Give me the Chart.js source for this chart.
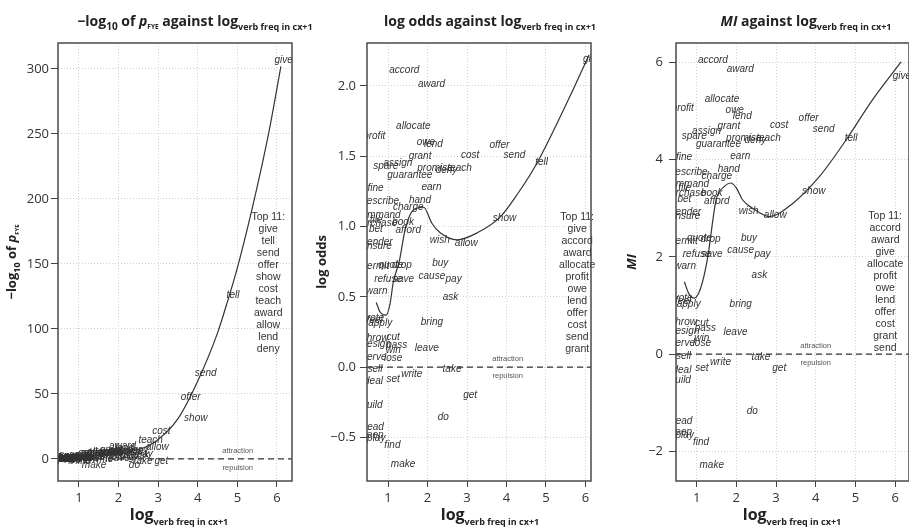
<!DOCTYPE html>
<html>
<head>
<meta charset="utf-8">
<script src="https://cdn.jsdelivr.net/npm/chart.js@4.4.0/dist/chart.umd.min.js"></script>
<style>
  body { margin: 0; background: #fff; }
  #wrap { position: relative; width: 909px; height: 530px; overflow: hidden; }
  .panel { position: absolute; top: 0; height: 530px; }
</style>
</head>
<body>
<div id="wrap">
  <canvas class="panel" id="fye" width="345" height="530" style="left:0"></canvas>
  <canvas class="panel" id="odds" width="345" height="530" style="left:303px"></canvas>
  <canvas class="panel" id="mi" width="303" height="530" style="left:606px"></canvas>
</div>
<script>
'use strict';

// tick labels
const xTicks = [1, 2, 3, 4, 5, 6];
const fyeTicks = [0, 50, 100, 150, 200, 250, 300];
const oddsTicks = [-0.5, 0, 0.5, 1, 1.5, 2];
const miTicks = [-2, 0, 2, 4, 6];

// verbs and their values
const verbs = ['give', 'tell', 'send', 'offer', 'show', 'cost', 'teach', 'award', 'allow', 'lend', 'deny',
  'accord', 'allocate', 'profit', 'owe', 'grant', 'assign', 'spare', 'promise', 'guarantee', 'fine', 'earn',
  'describe', 'hand', 'charge', 'command', 'file', 'purchase', 'book', 'bet', 'afford', 'wish', 'render',
  'ensure', 'permit', 'quote', 'drop', 'buy', 'cause', 'pay', 'refuse', 'save', 'warn', 'ask', 'vote', 'feel',
  'apply', 'bring', 'throw', 'cut', 'design', 'pass', 'win', 'serve', 'lose', 'leave', 'sell', 'take', 'write',
  'deal', 'set', 'get', 'build', 'do', 'read', 'keep', 'play', 'find', 'make'];

const logFreq = [6.17, 4.89, 4.2, 3.82, 3.95, 3.08, 2.81, 2.1, 2.98, 2.15, 2.48,
  1.41, 1.64, 0.65, 1.96, 1.81, 1.25, 0.94, 2.19, 1.55, 0.68, 2.1,
  0.8, 1.81, 1.51, 0.76, 0.7, 0.71, 1.38, 0.69, 1.51, 2.31, 0.75,
  0.71, 0.68, 1.07, 1.35, 2.32, 2.11, 2.66, 1.0, 1.39, 0.71, 2.58, 0.66, 0.66,
  0.8, 2.11, 0.7, 1.13, 0.7, 1.22, 1.13, 0.65, 1.13, 1.98, 0.67, 2.62, 1.6,
  0.63, 1.13, 3.08, 0.59, 2.4, 0.64, 0.61, 0.7, 1.11, 1.38];

const minusLogP = [307, 125.6, 66, 47.2, 31.3, 21, 14.6, 9.5, 9, 8, 7,
  4, 5, 1.5, 6, 6.5, 3, 2, 6, 4, 1, 5.5,
  1, 5, 4, 0.8, 0.8, 0.8, 3, 0.7, 4, 5, 0.6,
  0.5, 0.5, 1.5, 2, 3, 3, 3.5, 1.5, 1.5, 0.4, 2.5, 0.3, 0.3,
  0.3, 1, 0.2, 0.3, 0.2, 0.3, 0.2, 0.1, 0.2, 0.8, 0, -1.5, -0.3,
  -0.2, -0.5, -1.5, -0.3, -4.6, -0.5, -0.6, -0.6, -1.8, -5];

const logOdds = [2.19, 1.457, 1.505, 1.575, 1.06, 1.51, 1.414, 2.01, 0.88, 1.587, 1.397,
  2.11, 1.715, 1.64, 1.6, 1.5, 1.45, 1.43, 1.414, 1.367, 1.27, 1.28,
  1.177, 1.184, 1.137, 1.08, 1.047, 1.02, 1.03, 0.98, 0.976, 0.905, 0.89,
  0.857, 0.72, 0.727, 0.727, 0.74, 0.649, 0.625, 0.625, 0.625, 0.537, 0.497, 0.348, 0.33,
  0.313, 0.317, 0.206, 0.213, 0.163, 0.158, 0.123, 0.071, 0.064, 0.135, -0.014, -0.014, -0.048,
  -0.097, -0.085, -0.197, -0.268, -0.358, -0.43, -0.486, -0.505, -0.557, -0.694];

const miScore = [5.72, 4.44, 4.62, 4.85, 3.35, 4.71, 4.45, 5.86, 2.85, 4.9, 4.4,
  6.05, 5.25, 5.06, 5.02, 4.69, 4.59, 4.49, 4.45, 4.32, 4.06, 4.07,
  3.75, 3.8, 3.65, 3.49, 3.41, 3.32, 3.32, 3.18, 3.15, 2.94, 2.92,
  2.83, 2.33, 2.38, 2.36, 2.39, 2.14, 2.06, 2.06, 2.06, 1.8, 1.63, 1.16, 1.09,
  1.02, 1.02, 0.66, 0.63, 0.48, 0.53, 0.32, 0.22, 0.22, 0.46, -0.04, -0.06, -0.16,
  -0.33, -0.28, -0.29, -0.53, -1.17, -1.39, -1.6, -1.67, -1.82, -2.28];

// smoothers
const fyeCurveX = [0.6, 1, 1.5, 2, 2.5, 3, 3.5, 4, 4.5, 4.75, 5, 5.4, 5.8, 6.1];
const fyeCurveY = [1, 2, 3, 4.5, 7, 15, 31, 60, 97, 121, 147, 196, 252, 302];
const oddsCurveX = [0.7, 0.8, 0.95, 1.05, 1.13, 1.29, 1.43, 1.64, 1.9, 2.11, 2.32, 2.75, 3.26, 3.85, 4.3, 4.77, 5.53, 6.09];
const oddsCurveY = [0.46, 0.39, 0.37, 0.45, 0.6, 0.76, 0.976, 1.118, 1.137, 1.023, 0.955, 0.905, 0.955, 1.07, 1.24, 1.45, 1.88, 2.22];
const miCurveX = [0.69, 0.8, 0.94, 1.05, 1.15, 1.28, 1.49, 1.7, 1.86, 2.0, 2.16, 2.41, 2.83, 3.42, 4.09, 4.76, 5.43, 6.15];
const miCurveY = [1.49, 1.25, 1.15, 1.25, 1.49, 2.0, 3.17, 3.45, 3.52, 3.42, 3.17, 3.0, 2.83, 3.1, 3.65, 4.4, 5.23, 6.01];

// top 11 lists
const fyeTop = ['give', 'tell', 'send', 'offer', 'show', 'cost', 'teach', 'award', 'allow', 'lend', 'deny'];
const oddsTop = ['give', 'accord', 'award', 'allocate', 'profit', 'owe', 'lend', 'offer', 'cost', 'send', 'grant'];
const miTop = ['accord', 'award', 'give', 'allocate', 'profit', 'owe', 'lend', 'offer', 'cost', 'grant', 'send'];

const SUB = 'verb freq in cx+1';

function richFont(p) {
  return (p.i ? 'italic ' : '') + 'bold ' + p.s + 'px "Open Sans"';
}

function drawRich(ctx, parts, x, y) {
  let w = 0;
  parts.forEach(p => { ctx.font = richFont(p); p.w = ctx.measureText(p.t).width; w += p.w; });
  let cx = x - w / 2;
  ctx.textAlign = 'left';
  ctx.textBaseline = 'alphabetic';
  parts.forEach(p => {
    ctx.font = richFont(p);
    ctx.fillText(p.t, cx, y + (p.dy || 0));
    cx += p.w;
  });
}

function minus(v) {
  return String(v).replace('-', '\u2212');
}

function makePanel(id, cfg) {
  const decor = {
    id: 'decor' + id,
    afterDatasetsDraw(chart) {
      const ctx = chart.ctx;
      const a = chart.chartArea;
      const xs = chart.scales.x;
      const ys = chart.scales.y;
      ctx.save();
      ctx.beginPath();
      ctx.rect(a.left, a.top, a.right - a.left, a.bottom - a.top);
      ctx.clip();
      // verb labels
      ctx.fillStyle = '#333';
      ctx.font = 'italic 10px "Liberation Sans"';
      ctx.textAlign = 'center';
      ctx.textBaseline = 'middle';
      chart.getDatasetMeta(2).data.forEach((el, i) => {
        ctx.fillText(verbs[i], el.x, el.y);
      });
      // attraction / repulsion
      ctx.fillStyle = '#555';
      ctx.font = '7.5px "Liberation Sans"';
      const ax = xs.getPixelForValue(cfg.attX);
      const zy = ys.getPixelForValue(0);
      ctx.fillText('attraction', ax, zy - 8);
      ctx.fillText('repulsion', ax, zy + 9);
      ctx.restore();
      // top 11 list
      ctx.save();
      ctx.fillStyle = '#333';
      ctx.font = '10.5px "Liberation Sans"';
      ctx.textAlign = 'center';
      ctx.textBaseline = 'middle';
      const lx = xs.getPixelForValue(cfg.listX);
      const ly = ys.getPixelForValue(cfg.listY);
      ['Top 11:'].concat(cfg.top).forEach((t, i) => ctx.fillText(t, lx, ly + i * 12));
      ctx.restore();
      // frame
      ctx.save();
      ctx.strokeStyle = '#4a4a4a';
      ctx.lineWidth = 1.5;
      ctx.strokeRect(a.left, a.top, a.right - a.left, a.bottom - a.top);
      ctx.restore();
    },
    afterDraw(chart) {
      const ctx = chart.ctx;
      const a = chart.chartArea;
      ctx.save();
      ctx.fillStyle = '#222';
      drawRich(ctx, cfg.title, cfg.titleX, 26);
      drawRich(ctx, [{ t: 'log', s: 16 }, { t: SUB, s: 9, dy: 5 }], cfg.xTitleX, 520);
      ctx.translate(cfg.yTitleX, (a.top + a.bottom) / 2);
      ctx.rotate(-Math.PI / 2);
      drawRich(ctx, cfg.yTitle, 0, 0);
      ctx.restore();
    }
  };

  const tickFont = { family: '"Open Sans"', size: 13 };

  return new Chart(document.getElementById(id), {
    type: 'scatter',
    data: {
      datasets: [
        {
          data: [{ x: cfg.xMin, y: 0 }, { x: cfg.xMax, y: 0 }],
          showLine: true, borderColor: '#333', borderWidth: 1.3, borderDash: [6, 4], pointRadius: 0
        },
        {
          data: cfg.curveX.map((x, i) => ({ x: x, y: cfg.curveY[i] })),
          showLine: true, borderColor: '#333', borderWidth: 1.2, pointRadius: 0,
          cubicInterpolationMode: 'monotone'
        },
        {
          data: logFreq.map((x, i) => ({ x: x, y: cfg.yVals[i] })),
          pointRadius: 0, showLine: false
        }
      ]
    },
    options: {
      responsive: false,
      animation: false,
      events: [],
      layout: { padding: { top: 43, right: cfg.rightPad, bottom: 0, left: 0 } },
      plugins: { legend: { display: false }, tooltip: { enabled: false }, title: { display: false } },
      scales: {
        x: {
          type: 'linear', min: cfg.xMin, max: cfg.xMax,
          afterBuildTicks: s => { s.ticks = xTicks.map(v => ({ value: v })); },
          afterFit: s => { s.height = 49; },
          ticks: { font: tickFont, color: '#333', padding: 3, maxRotation: 0 },
          grid: { color: '#d2d2d2', tickLength: 6, tickColor: '#444', tickWidth: 1 },
          border: { display: false, dash: [1, 2] }
        },
        y: {
          type: 'linear', min: cfg.yMin, max: cfg.yMax,
          afterBuildTicks: s => { s.ticks = cfg.yTicks.map(v => ({ value: v })); },
          afterFit: s => { s.width = cfg.leftW; },
          ticks: { font: tickFont, color: '#333', padding: cfg.tickPad, callback: cfg.fmt },
          grid: { color: '#d2d2d2', tickLength: 7, tickColor: '#444', tickWidth: 1 },
          border: { display: false, dash: [1, 2] }
        }
      }
    },
    plugins: [decor]
  });
}

makePanel('fye', {
  yVals: minusLogP, curveX: fyeCurveX, curveY: fyeCurveY, yTicks: fyeTicks,
  xMin: 0.47, xMax: 6.38, yMin: -17, yMax: 320, leftW: 58, rightPad: 53, tickPad: 2,
  fmt: v => minus(v),
  top: fyeTop, listX: 5.78, listY: 186, attX: 5.01,
  title: [{ t: '\u2212log', s: 14 }, { t: '10', s: 10, dy: 4 }, { t: ' of ', s: 14 }, { t: 'p', s: 14, i: 1 },
    { t: 'FYE', s: 6.5, dy: 3 }, { t: ' against log', s: 14 }, { t: SUB, s: 9, dy: 4 }],
  titleX: 195, xTitleX: 179,
  yTitle: [{ t: '\u2212log', s: 13 }, { t: '10', s: 9, dy: 4 }, { t: ' of ', s: 13 }, { t: 'p', s: 13, i: 1 },
    { t: 'FYE', s: 6, dy: 3 }],
  yTitleX: 16
});

makePanel('odds', {
  yVals: logOdds, curveX: oddsCurveX, curveY: oddsCurveY, yTicks: oddsTicks,
  xMin: 0.466, xMax: 6.14, yMin: -0.81, yMax: 2.305, leftW: 64, rightPad: 57, tickPad: 4,
  fmt: v => minus(v.toFixed(1)),
  top: oddsTop, listX: 5.79, listY: 1.07, attX: 4.03,
  title: [{ t: 'log odds against log', s: 14 }, { t: SUB, s: 9, dy: 4 }],
  titleX: 187, xTitleX: 187,
  yTitle: [{ t: 'log odds', s: 13 }],
  yTitleX: 23
});

makePanel('mi', {
  yVals: miScore, curveX: miCurveX, curveY: miCurveY, yTicks: miTicks,
  xMin: 0.48, xMax: 6.35, yMin: -2.61, yMax: 6.4, leftW: 70, rightPad: 0, tickPad: 6,
  fmt: v => minus(v),
  top: miTop, listX: 5.75, listY: 2.83, attX: 4.0,
  title: [{ t: 'MI', s: 14, i: 1 }, { t: ' against log', s: 14 }, { t: SUB, s: 9, dy: 4 }],
  titleX: 200, xTitleX: 186,
  yTitle: [{ t: 'MI', s: 13, i: 1 }],
  yTitleX: 30
});
</script>
</body>
</html>
